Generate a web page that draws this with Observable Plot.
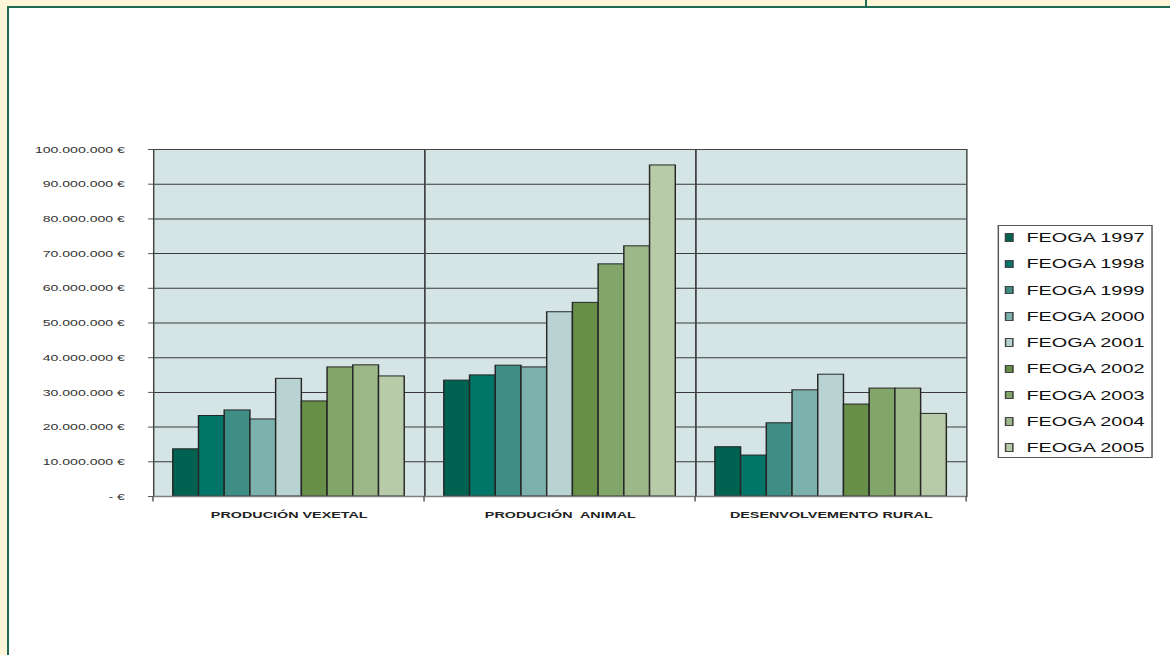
<!DOCTYPE html>
<html>
<head>
<meta charset="utf-8">
<script src="https://cdn.jsdelivr.net/npm/d3@7"></script>
<script src="https://cdn.jsdelivr.net/npm/@observablehq/plot@0.6"></script>
<style>
  html, body { margin: 0; padding: 0; width: 1170px; height: 655px; overflow: hidden; background: #FFF6D8; }
  #panel { position: absolute; left: 7px; top: 6px; width: 1170px; height: 660px; background: #fff;
           border-left: 2px solid #1F6A55; border-top: 2px solid #1F6A55; }
  #notch { position: absolute; left: 865px; top: 0; width: 2px; height: 7px; background: #1F6A55; }
  #stretch { position: absolute; left: 0; top: 0; width: 807px; height: 655px; transform: scaleX(1.45); transform-origin: 0 0; }
  #chart { position: absolute; left: 0; top: 0; }
  #legend { position: absolute; left: 687.6px; top: 225px; width: 107.6px; height: 233px; box-sizing: border-box;
            border: 1px solid #555; background: #fff; font-family: "Liberation Sans", Arial, sans-serif; }
  .row { position: relative; height: 26.25px; display: flex; align-items: center; }
  .sw { position: absolute; left: 4.3px; width: 5.7px; height: 8.3px; box-sizing: border-box; border: 1px solid #444; }
  .lab { position: absolute; left: 19.3px; font-size: 13.7px; color: #111; white-space: nowrap; }
</style>
</head>
<body>
<div id="panel"></div>
<div id="notch"></div>
<div id="stretch">
  <div id="chart"></div>
  <div id="legend"></div>
</div>
<script>
// ---- data ----
const categories = ["PRODUCIÓN VEXETAL", "PRODUCIÓN  ANIMAL", "DESENVOLVEMENTO RURAL"];
const years = ["FEOGA 1997", "FEOGA 1998", "FEOGA 1999", "FEOGA 2000", "FEOGA 2001",
               "FEOGA 2002", "FEOGA 2003", "FEOGA 2004", "FEOGA 2005"];
// values in millions of euros
const producionVexetal = [13.6, 23.2, 24.8, 22.2, 33.9, 27.4, 37.2, 37.8, 34.6];
const producionAnimal  = [33.4, 34.9, 37.7, 37.2, 53.1, 55.8, 66.9, 72.1, 95.4];
const desenvolvemento  = [14.2, 11.8, 21.1, 30.6, 35.1, 26.5, 31.1, 31.1, 23.8];
const yTicks = [0, 10e6, 20e6, 30e6, 40e6, 50e6, 60e6, 70e6, 80e6, 90e6, 100e6];
const colors = ["#006352", "#007568", "#3F8E85", "#7BB2AD", "#B8D3D1", "#678F48", "#82A56A", "#9DB888", "#B7CBA8"];

const series = [producionVexetal, producionAnimal, desenvolvemento];
const data = categories.flatMap((c, i) => years.map((y, j) => ({cat: c, year: y, value: series[i][j] * 1e6})));

const fmt = d => d === 0 ? "- €" : d3.format(",")(d).replace(/,/g, ".") + " €";

const plot = Plot.plot({
  width: 807,
  height: 540,
  marginLeft: 105.5,
  marginRight: 140.7,
  marginTop: 149,
  marginBottom: 44,
  style: {fontFamily: "'Liberation Sans', Arial, sans-serif", background: "transparent", overflow: "visible"},
  fx: {domain: categories, padding: 0, round: false, axis: "bottom", tickSize: 0, tickPadding: 14, label: null},
  x: {domain: years, paddingInner: 0, paddingOuter: 0.77, round: false, axis: null},
  y: {domain: [0, 1e8], ticks: yTicks, tickFormat: fmt, tickSize: 3.4, tickPadding: 16.5, label: null, axis: "left"},
  color: {domain: years, range: colors},
  marks: [
    Plot.frame({fill: "#D5E4E4", stroke: "none"}),
    Plot.ruleY(yTicks.slice(1), {stroke: "#3a3a3a", strokeWidth: 1}),
    Plot.barY(data, {fx: "cat", x: "year", y: "value", fill: "year", stroke: "#262626", strokeWidth: 1}),
    Plot.frame({stroke: "#444", strokeWidth: 1}),
    Plot.ruleY([0], {stroke: "#808080", strokeWidth: 1.5})
  ]
});
document.getElementById("chart").appendChild(plot);

const svg = d3.select(plot);
svg.selectAll('[aria-label^="y-axis"] text')
  .style("font-size", "9.7px").style("fill", "#333");
svg.selectAll('[aria-label^="y-axis"] line, [aria-label^="y-axis"] path')
  .style("stroke", "#555");
svg.selectAll('[aria-label^="fx-axis"] text')
  .style("font-size", "9.9px").style("font-weight", "bold").style("fill", "#222").style("white-space", "pre");

// small ticks below the axis at the category boundaries
try {
  const fx = Plot.scale({fx: plot.scale("fx")});
  const ys = Plot.scale({y: plot.scale("y")});
  const y0 = ys.apply(0);
  const bw = fx.bandwidth;
  const xs = categories.map(c => fx.apply(c)).concat([fx.apply(categories[categories.length - 1]) + bw]);
  svg.append("g").selectAll("line").data(xs).join("line")
    .attr("x1", d => d).attr("x2", d => d)
    .attr("y1", y0).attr("y2", y0 + 5.5)
    .attr("stroke", "#555").attr("stroke-width", 1);
} catch (e) { console.error(e); }

// legend
const legend = d3.select("#legend");
const rows = legend.append("div").style("margin-top", "-1.5px")
  .selectAll("div").data(years).join("div").attr("class", "row");
rows.append("div").attr("class", "sw").style("background", (d, i) => colors[i]);
rows.append("div").attr("class", "lab").text(d => d);
</script>
</body>
</html>
